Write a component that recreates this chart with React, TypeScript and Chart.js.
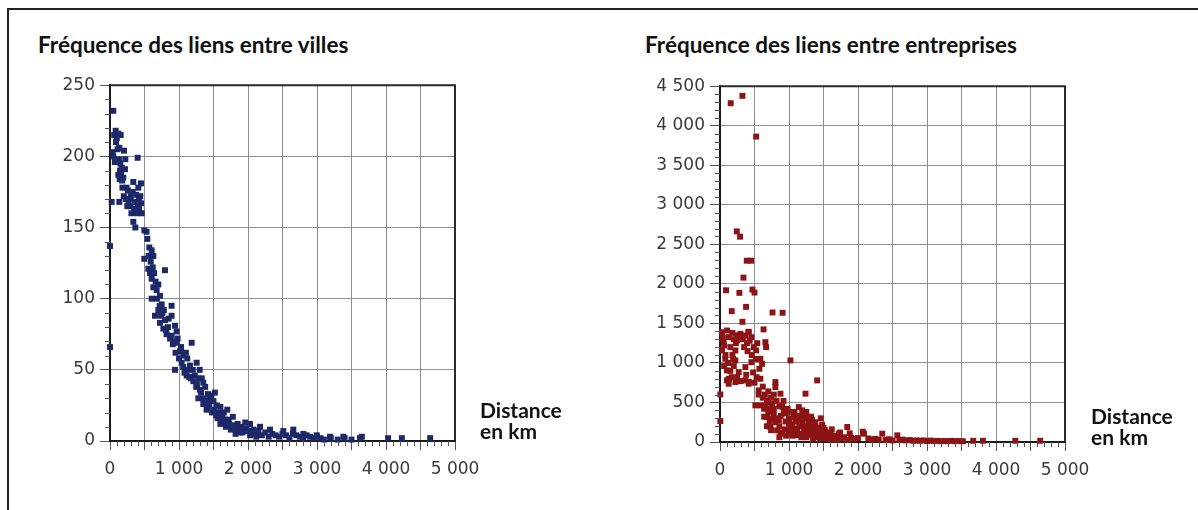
import React, { useEffect, useRef } from 'react';
import { Chart, registerables } from 'chart.js';

Chart.register(...registerables);

// ---- Data (distance in km, frequency) ----
const villesPoints: [number, number][] = [
  [48, 232], [82, 218], [120, 216], [155, 215], [100, 213], [87, 210], [135, 206], [39, 203], [48, 200],
  [203, 204], [222, 198], [401, 199], [70, 196], [145, 190], [217, 191], [121, 187], [160, 188], [193, 185],
  [175, 183], [338, 182], [449, 181], [241, 178], [24, 168], [135, 168], [260, 176], [300, 172], [330, 175],
  [380, 173], [420, 170], [450, 167], [400, 165], [350, 163], [300, 165], [280, 170], [420, 163], [338, 154],
  [367, 150], [497, 148], [530, 147], [0, 137], [541, 142], [570, 136], [604, 134], [497, 128], [628, 130],
  [797, 120], [555, 121], [580, 118], [604, 114], [640, 118], [628, 108], [604, 100], [676, 106], [700, 110],
  [724, 102], [749, 96], [700, 92], [893, 95], [652, 88], [760, 90], [724, 83], [800, 85], [773, 79],
  [893, 88], [840, 80], [942, 81], [966, 77], [820, 75], [893, 74], [930, 70], [966, 69], [0, 66],
  [1014, 63], [1184, 69], [1062, 60], [1100, 62], [1038, 55], [942, 50], [1159, 53], [1256, 55], [1111, 46],
  [1200, 50], [1300, 50], [1208, 42], [1150, 45], [1352, 41], [1304, 36], [1380, 38], [1280, 30], [1420, 33],
  [1352, 26], [1450, 30], [1500, 28], [1400, 22], [1550, 25], [1600, 24], [1480, 20], [1650, 20], [1700, 22],
  [1560, 16], [1620, 14], [1720, 15], [1780, 17], [1850, 12], [1680, 10], [1750, 8], [1900, 10], [1950, 9],
  [2000, 7], [1820, 5], [2050, 6], [2100, 5], [2150, 7], [2200, 4], [2250, 6], [2300, 3], [2350, 5],
  [2400, 4], [2450, 3], [2500, 5], [2550, 4], [2600, 2], [2650, 5], [2700, 4], [2750, 3], [2800, 2],
  [2850, 4], [2900, 3], [2950, 2], [3000, 3], [3050, 2], [3100, 1], [3200, 2], [3300, 1], [3400, 2],
  [3500, 1], [3650, 3], [4030, 2], [4230, 2], [4640, 2],
  [1330, 44], [1250, 38], [1430, 24], [1520, 34], [1600, 12], [1700, 14], [1800, 10], [1880, 6], [1960, 13],
  [2029, 12], [2174, 10], [2319, 8], [2512, 7], [2657, 8], [2802, 5], [2995, 4], [3188, 3], [3382, 3], [3623, 2],
  [560, 130], [590, 126], [620, 122], [660, 112], [680, 100], [720, 95], [740, 88], [780, 92], [810, 78],
  [850, 86], [870, 72], [910, 68], [950, 62], [980, 72], [1000, 58], [1030, 66], [1060, 52], [1080, 48],
  [1120, 58], [1140, 50], [1170, 44], [1230, 46], [1260, 40], [1290, 44], [1320, 34], [1360, 30], [1390, 28],
  [1440, 26], [1470, 32], [1510, 22], [1540, 18], [1580, 20], [1630, 18], [1660, 15], [1730, 12], [1770, 11],
  [1830, 9], [1870, 8], [1920, 6], [1980, 8], [2030, 4], [2080, 8], [2120, 3],
  [60, 215], [110, 205], [130, 198], [150, 195], [170, 192], [140, 184], [180, 178], [200, 172], [230, 170],
  [250, 165], [270, 168], [310, 160], [360, 168], [390, 160], [440, 172], [460, 160], [410, 178],
];

const entreprisesPoints: [number, number][] = [
  [155, 4285], [325, 4378], [524, 3863], [243, 2664], [291, 2597], [388, 2293], [451, 2293], [340, 2079],
  [87, 1919], [281, 1886], [470, 1928], [500, 1890], [170, 1655], [378, 1709], [761, 1638], [907, 1634],
  [325, 1520], [412, 1394], [631, 1424],
  [29, 1389], [102, 1410], [53, 1263], [126, 1326], [295, 1368], [368, 1347], [416, 1389], [455, 1326],
  [247, 1284], [489, 1200], [523, 1158], [658, 1263], [668, 1200], [29, 1158], [77, 1053], [223, 1158],
  [585, 1053], [610, 989], [1021, 1032], [102, 905], [223, 1032], [368, 947], [271, 884], [455, 1010],
  [571, 926], [585, 800], [126, 737], [223, 758], [368, 779], [416, 737], [803, 758], [803, 695], [876, 611],
  [1408, 779], [5, 602], [561, 653], [513, 463], [585, 463], [682, 526], [755, 484], [707, 421], [1239, 611],
  [5, 265],
  [150, 1200], [60, 1220], [180, 1100], [120, 1000], [80, 1100], [200, 1300], [330, 1300], [390, 1250],
  [430, 1280], [400, 1150], [460, 1100], [170, 820], [130, 800], [300, 770], [420, 760], [480, 880],
  [520, 1050], [540, 1250], [350, 1200], [250, 1350], [40, 1320], [60, 960], [200, 960], [100, 780],
  [620, 700], [560, 600], [620, 560], [660, 460],
  [682, 316], [779, 358], [852, 274], [924, 400], [997, 232], [1070, 316], [1142, 442], [1191, 400],
  [1239, 316], [1287, 232], [1336, 274], [1384, 189], [1457, 147], [731, 189], [828, 147], [900, 105],
  [997, 126], [1094, 168], [1166, 105], [1118, 84], [1215, 63], [1336, 84], [1433, 63], [1529, 42],
  [640, 420], [700, 380], [760, 300], [800, 250], [880, 330], [950, 360], [1000, 300], [1050, 220],
  [1100, 260], [1150, 200], [1200, 250], [1260, 180], [1300, 140], [1350, 150], [1400, 100], [1450, 90],
  [1500, 80], [1550, 60], [640, 320], [720, 250], [780, 420], [860, 200], [940, 160], [1020, 180],
  [1080, 380], [1180, 330], [1250, 380], [1320, 320], [1380, 250], [900, 450], [950, 260], [1120, 150],
  [1220, 130], [1280, 100], [1480, 220], [1520, 150], [1560, 120], [1600, 100], [1650, 80], [1700, 70],
  [1723, 105], [1844, 190], [1760, 50], [1800, 60], [1900, 55], [1950, 40], [2000, 50], [2086, 105],
  [2150, 45], [2200, 30], [2250, 40], [2352, 105], [2300, 30], [2400, 25], [2450, 35], [2500, 20],
  [2570, 84], [2600, 25], [2650, 30], [2700, 20], [2750, 25], [2800, 15], [2850, 20], [2900, 15],
  [2950, 20], [3000, 12], [3050, 18], [3100, 12], [3150, 15], [3200, 10], [3250, 12], [3300, 10],
  [3350, 15], [3400, 10], [3450, 12], [3520, 10], [3670, 15], [3810, 15], [4280, 15], [4640, 15],
  [1740, 120], [1880, 110], [2070, 130], [1620, 160], [1400, 170], [1180, 60], [1050, 80], [860, 60],
  [180, 1380], [230, 1250], [190, 1050], [150, 900],
  [380, 850], [250, 820], [500, 750], [530, 820], [650, 600], [700, 640], [740, 560],
  [700, 500], [780, 600], [820, 520], [860, 450], [920, 520], [980, 420], [1030, 380], [1100, 330],
  [1160, 280], [1210, 200], [1270, 300], [1330, 200], [1420, 180], [1460, 300], [1500, 180], [680, 200],
  [740, 150], [820, 300], [880, 120], [960, 80], [1010, 240], [1060, 140], [1130, 100], [1250, 60],
  [1350, 40], [1450, 40], [1580, 40], [1650, 30], [1720, 30], [1850, 25],
];

// ---- Axes ----
const xMax = 5000;
const xStep = 500;
const xLabelStep = 1000;
const xMinorStep = 100;

const villesYMax = 250;
const villesYStep = 50;
const villesYMinor = 10;

const entreprisesYMax = 4500;
const entreprisesYStep = 500;
const entreprisesYMinor = 100;

const titleVilles = 'Fréquence des liens entre villes';
const titleEntreprises = 'Fréquence des liens entre entreprises';
const axisLabelLines = ['Distance', 'en km'];

const fmt = (v: number) => String(v).replace(/\B(?=(\d{3})+(?!\d))/g, ' ');

type Props = {
  points: [number, number][];
  color: string;
  yMax: number;
  yStep: number;
  yMinor: number;
  left: number;
  top: number;
};

function ScatterPanel({ points, color, yMax, yStep, yMinor, left, top }: Props) {
  const ref = useRef<HTMLCanvasElement | null>(null);
  useEffect(() => {
    if (!ref.current) return;
    const frame = {
      id: 'frameAndMinor',
      afterDraw(chart: any) {
        const ctx = chart.ctx;
        const a = chart.chartArea;
        const xs = chart.scales.x;
        const ys = chart.scales.y;
        ctx.save();
        ctx.strokeStyle = '#555';
        ctx.lineWidth = 1;
        ctx.beginPath();
        for (let v = 0; v <= xMax; v += xMinorStep) {
          if (v % xStep === 0) continue;
          const px = Math.round(xs.getPixelForValue(v)) + 0.5;
          ctx.moveTo(px, a.bottom);
          ctx.lineTo(px, a.bottom + 5);
        }
        for (let v = 0; v <= yMax; v += yMinor) {
          if (v % yStep === 0) continue;
          const py = Math.round(ys.getPixelForValue(v)) + 0.5;
          ctx.moveTo(a.left - 5, py);
          ctx.lineTo(a.left, py);
        }
        ctx.stroke();
        ctx.strokeStyle = '#2a2a2a';
        ctx.lineWidth = 2;
        ctx.beginPath();
        ctx.moveTo(a.left, a.top);
        ctx.lineTo(a.right, a.top);
        ctx.lineTo(a.right, a.bottom);
        ctx.stroke();
        ctx.restore();
      },
    };
    const tickFont = { family: '"DejaVu Sans", sans-serif', size: 17 };
    const chart = new Chart(ref.current, {
      type: 'scatter',
      data: {
        datasets: [
          {
            data: points.map(([x, y]) => ({ x, y })),
            backgroundColor: color,
            borderWidth: 0,
            pointStyle: 'rect',
            pointRadius: 4.2,
            pointHoverRadius: 4.2,
            clip: false as any,
          },
        ],
      },
      options: {
        animation: false,
        responsive: false,
        events: [],
        layout: { padding: { left: 0, top: 15, right: 45, bottom: 0 } },
        plugins: { legend: { display: false }, tooltip: { enabled: false } },
        scales: {
          x: {
            type: 'linear',
            min: 0,
            max: xMax,
            afterFit: (s: any) => { s.height = 59; },
            ticks: {
              stepSize: xStep,
              autoSkip: false,
              maxRotation: 0,
              padding: 9,
              color: '#3a3a3a',
              font: tickFont,
              callback: (v: any) => (Number(v) % xLabelStep === 0 ? fmt(Number(v)) : ''),
            },
            grid: { color: '#8e8e8e', lineWidth: 1, tickLength: 9, tickColor: '#555' },
            border: { color: '#1a1a1a', width: 2 },
          },
          y: {
            type: 'linear',
            min: 0,
            max: yMax,
            afterFit: (s: any) => { s.width = 70; },
            ticks: {
              stepSize: yStep,
              padding: 5,
              color: '#3a3a3a',
              font: tickFont,
              callback: (v: any) => fmt(Number(v)),
            },
            grid: { color: '#8e8e8e', lineWidth: 1, tickLength: 10, tickColor: '#555' },
            border: { color: '#1a1a1a', width: 2 },
          },
        },
      },
      plugins: [frame],
    });
    return () => chart.destroy();
  }, [points, color, yMax, yStep, yMinor]);
  return (
    <canvas
      ref={ref}
      width={460}
      height={430}
      style={{ position: 'absolute', left, top, width: 460, height: 430 }}
    />
  );
}

const titleStyle: React.CSSProperties = {
  position: 'absolute',
  fontFamily: 'Lato, "Noto Sans", sans-serif',
  fontWeight: 700,
  fontSize: 22.5,
  color: '#111',
  whiteSpace: 'nowrap',
  lineHeight: '24px',
};

const axisStyle: React.CSSProperties = {
  position: 'absolute',
  fontFamily: 'Lato, "Noto Sans", sans-serif',
  fontWeight: 700,
  fontSize: 21,
  color: '#111',
  lineHeight: '21px',
  whiteSpace: 'nowrap',
};

export default function App() {
  return (
    <div style={{ position: 'absolute', left: 0, top: 0, width: 1198, height: 510, background: '#fff', overflow: 'hidden' }}>
      <div
        style={{
          position: 'absolute',
          left: 7,
          top: 8,
          width: 1191,
          height: 502,
          borderTop: '2px solid #222',
          borderLeft: '2px solid #222',
          boxSizing: 'border-box',
        }}
      />
      <div style={{ ...titleStyle, left: 38, top: 33 }}>{titleVilles}</div>
      <div style={{ ...titleStyle, left: 645, top: 33 }}>{titleEntreprises}</div>
      <ScatterPanel
        points={villesPoints}
        color="#1c2868"
        yMax={villesYMax}
        yStep={villesYStep}
        yMinor={villesYMinor}
        left={40}
        top={70}
      />
      <ScatterPanel
        points={entreprisesPoints}
        color="#8c1414"
        yMax={entreprisesYMax}
        yStep={entreprisesYStep}
        yMinor={entreprisesYMinor}
        left={650}
        top={71}
      />
      <div style={{ ...axisStyle, left: 480, top: 399 }}>
        {axisLabelLines[0]}
        <br />
        {axisLabelLines[1]}
      </div>
      <div style={{ ...axisStyle, left: 1091, top: 405 }}>
        {axisLabelLines[0]}
        <br />
        {axisLabelLines[1]}
      </div>
    </div>
  );
}
